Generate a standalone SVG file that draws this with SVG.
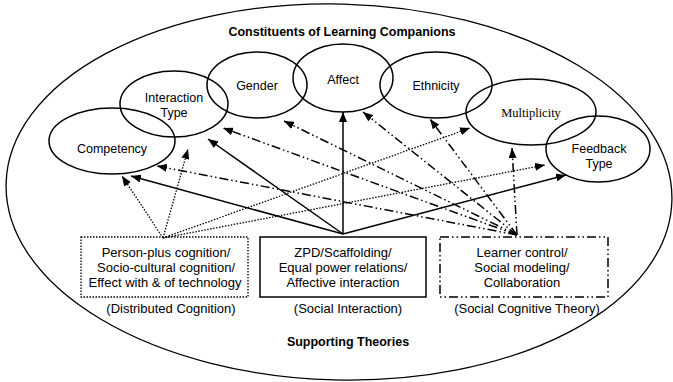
<svg xmlns="http://www.w3.org/2000/svg" width="673" height="382" viewBox="0 0 673 382">
<style>
text{font-family:"Liberation Sans",Arial,sans-serif;font-size:12.5px;fill:#000;text-anchor:middle}
.b{font-weight:bold}
.bx{font-size:13px}
.serif{font-family:"Liberation Serif","Times New Roman",serif}
.node ellipse{fill:none;stroke:#000;stroke-width:1.5}
.box{fill:none;stroke:#000;stroke-width:1.3}
.solid{stroke:#000;stroke-width:1.5;fill:none}
.dot{stroke:#000;stroke-width:1.3;fill:none;stroke-dasharray:1.5 1.5}
.dd{stroke:#000;stroke-width:1.5;fill:none;stroke-dasharray:9 3 1.5 3 1.5 3}
</style>
<defs>
<marker id="ah" markerUnits="userSpaceOnUse" markerWidth="10" markerHeight="8" refX="10" refY="4" orient="auto">
<path d="M0,0 L10,4 L0,8 z" fill="#000"/>
</marker>
</defs>
<rect width="673" height="382" fill="#fff"/>
<ellipse cx="339" cy="192" rx="333" ry="188" transform="rotate(1.5 339 192)" fill="none" stroke="#000" stroke-width="1.3"/>
<text class="b" x="342" y="36">Constituents of Learning Companions</text>
<text class="b" x="348" y="346">Supporting Theories</text>

<g id="competency" class="node"><ellipse cx="112" cy="141" rx="63" ry="33"/><text x="112" y="153">Competency</text></g>
<g id="interaction-type" class="node"><ellipse cx="174" cy="104" rx="54" ry="33"/><text x="174" y="102">Interaction</text><text x="174" y="117">Type</text></g>
<g id="gender" class="node"><ellipse cx="257" cy="85" rx="50" ry="33"/><text x="257" y="90">Gender</text></g>
<g id="affect" class="node"><ellipse cx="343" cy="78" rx="50" ry="34"/><text x="343" y="84">Affect</text></g>
<g id="ethnicity" class="node"><ellipse cx="436" cy="85" rx="56" ry="33"/><text x="436" y="90">Ethnicity</text></g>
<g id="multiplicity" class="node"><ellipse cx="531" cy="112" rx="65" ry="33"/><text class="serif" x="531" y="117">Multiplicity</text></g>
<g id="feedback-type" class="node"><ellipse cx="598" cy="149" rx="52" ry="33"/><text x="599" y="153">Feedback</text><text x="599" y="168">Type</text></g>

<g id="distributed-cognition">
<rect class="box" x="81" y="237" width="167" height="60" style="stroke-dasharray:1.5 1.5"/>
<text class="bx" x="166" y="257">Person-plus cognition/</text>
<text class="bx" x="166" y="272">Socio-cultural cognition/</text>
<text class="bx" x="165" y="287">Effect with &amp; of technology</text>
<text class="bx" x="171" y="313">(Distributed Cognition)</text>
</g>
<g id="social-interaction">
<rect class="box" x="260" y="237" width="166" height="60" style="stroke-width:1.5"/>
<text class="bx" x="343" y="257">ZPD/Scaffolding/</text>
<text class="bx" x="343" y="272">Equal power relations/</text>
<text class="bx" x="343" y="287">Affective interaction</text>
<text class="bx" x="348" y="313">(Social Interaction)</text>
</g>
<g id="social-cognitive-theory">
<rect class="box" x="440" y="237" width="168" height="60" style="stroke-dasharray:9 3 1.5 3 1.5 3;stroke-width:1.5"/>
<text class="bx" x="522" y="257">Learner control/</text>
<text class="bx" x="522" y="272">Social modeling/</text>
<text class="bx" x="522" y="287">Collaboration</text>
<text class="bx" x="527" y="313">(Social Cognitive Theory)</text>
</g>

<g id="connectors">
<line class="dot" x1="163" y1="238" x2="122" y2="176" marker-end="url(#ah)"/>
<line class="dot" x1="163" y1="238" x2="188" y2="149" marker-end="url(#ah)"/>
<line class="dot" x1="163" y1="238" x2="470" y2="128" marker-end="url(#ah)"/>
<line class="dot" x1="163" y1="238" x2="545" y2="165" marker-end="url(#ah)"/>
<line class="solid" x1="343" y1="234" x2="131" y2="176" marker-end="url(#ah)"/>
<line class="solid" x1="343" y1="234" x2="208" y2="139" marker-end="url(#ah)"/>
<line class="solid" x1="343" y1="234" x2="343" y2="112" marker-end="url(#ah)"/>
<line class="solid" x1="343" y1="234" x2="566" y2="175" marker-end="url(#ah)"/>
<line class="dd" x1="517" y1="235" x2="157" y2="166" marker-end="url(#ah)"/>
<line class="dd" x1="517" y1="235" x2="223" y2="128" marker-end="url(#ah)"/>
<line class="dd" x1="517" y1="235" x2="284" y2="121" marker-end="url(#ah)"/>
<line class="dd" x1="517" y1="235" x2="363" y2="112" marker-end="url(#ah)"/>
<line class="dd" x1="517" y1="235" x2="430" y2="119" marker-end="url(#ah)"/>
<line class="dd" x1="517" y1="235" x2="512" y2="148" marker-end="url(#ah)"/>
</g>
</svg>
